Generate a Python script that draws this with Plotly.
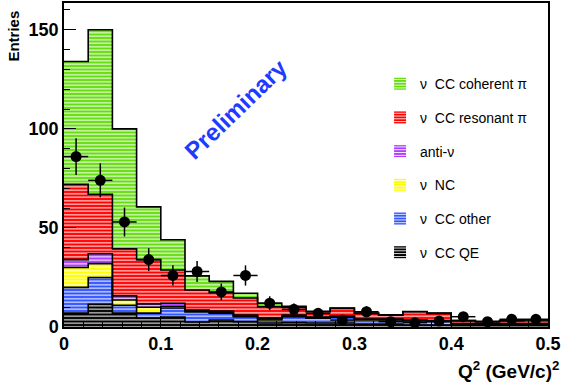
import plotly.graph_objects as go

# ---- data ----
bin_width = 0.025
n_bins = 20
bin_edges = [round(i * bin_width, 4) for i in range(n_bins + 1)]
bin_centers = [round((bin_edges[i] + bin_edges[i + 1]) / 2, 5) for i in range(n_bins)]

cc_qe = [7, 11.5, 7, 4.5, 5, 2.5, 3.5, 2.7, 2, 2.2, 2, 2, 1.5, 1.5, 1, 1, 0.8, 0.8, 0.8, 0.8]
cc_other = [13, 13.5, 4, 2.5, 4.6, 5.1, 3.5, 2.5, 1.5, 3.0, 2.5, 3.0, 2.0, 2.0, 2.0, 1.7, 0.7, 0.7, 0.7, 0.7]
nc = [10, 7, 2.6, 3, 0.9, 0.4, 0.5, 0.3, 0.5, 0.3, 0.3, 0.3, 0.3, 0.2, 0.2, 0.2, 0.1, 0.1, 0.1, 0.1]
anti_nu = [4, 5, 2.1, 1.6, 1.5, 0.5, 0.5, 0.5, 0.5, 0.5, 0.2, 0.2, 0.2, 0.3, 0.3, 0.3, 0.2, 0.2, 0.2, 0.2]
cc_res = [38, 30, 23.7, 22.4, 16.8, 10.2, 9.3, 8.6, 5.8, 4, 2.7, 3.9, 2.9, 2, 4.2, 3.7, 1.4, 0.9, 1.4, 1.7]
cc_coh = [62, 83, 60.6, 26.6, 15.2, 7.1, 5.7, 2.4, 1.7, 0.5, 0.2, 0.1, 0.1, 0.1, 0.1, 0.1, 0.1, 0.1, 0.1, 0.1]

data_counts = [86, 74, 53, 34, 26, 28, 17.7, 26, 12, 8.9, 6.9, 3.5, 7.7, 2.7, 2.2, 3, 5.2, 2.7, 3.9, 3.9]
data_errors = [9.3, 8.6, 7.3, 5.8, 5.1, 5.3, 4.2, 5.1, 3.5, 3.0, 2.6, 1.9, 2.8, 1.6, 1.5, 1.7, 2.3, 1.6, 2.0, 2.0]
data_xerr = [bin_width / 2] * n_bins

labels = ["\u03bd\u00a0 CC QE", "\u03bd\u00a0 CC other", "\u03bd\u00a0 NC", "anti-\u03bd",
          "\u03bd\u00a0 CC resonant \u03c0", "\u03bd\u00a0 CC coherent \u03c0"]
colors = ["#000000", "#3355ff", "#ffff00", "#b040ff", "#ff0000", "#66dd11"]
components = [cc_qe, cc_other, nc, anti_nu, cc_res, cc_coh]

y_ticks = [0, 50, 100, 150]
x_ticks = [0, 0.1, 0.2, 0.3, 0.4, 0.5]

FONT = "Liberation Sans, Arial, Helvetica, sans-serif"

fig = go.Figure()

# stacked fills
n = len(components)
for k, (lab, col, vals) in enumerate(zip(labels, colors, components)):
    fig.add_trace(go.Bar(
        x=bin_centers, y=vals, width=[bin_width] * n_bins, name=lab,
        marker=dict(color=col, line=dict(width=0),
                    pattern=dict(shape="-", bgcolor=col, fgcolor="white",
                                 size=3.5, solidity=0.3, fillmode="replace")),
        legendgroup=lab, legendrank=n - k, showlegend=True,
    ))

# step outlines of cumulative tops
cum = [0.0] * n_bins
for vals in components:
    cum = [c + v for c, v in zip(cum, vals)]
    fig.add_trace(go.Scatter(
        x=bin_edges, y=cum + [cum[-1]], mode="lines",
        line=dict(color="black", width=1.6, shape="hv"),
        showlegend=False, hoverinfo="skip",
    ))

# data points
fig.add_trace(go.Scatter(
    x=bin_centers, y=data_counts, mode="markers",
    marker=dict(color="black", size=11),
    error_y=dict(type="data", array=data_errors, color="black", thickness=1.5, width=0),
    error_x=dict(type="data", array=data_xerr, color="black", thickness=1.5, width=0),
    showlegend=False,
))

fig.add_annotation(
    x=0.177, y=110, xref="x", yref="y", text="<b>Preliminary</b>",
    textangle=-44, showarrow=False,
    font=dict(family=FONT, size=24, color="rgb(30,60,255)"),
)

fig.update_layout(
    width=561, height=382,
    margin=dict(l=64, r=13, t=3, b=55),
    paper_bgcolor="white", plot_bgcolor="white",
    barmode="stack", bargap=0,
    font=dict(family=FONT, color="black"),
    legend=dict(
        x=0.653, y=0.799, xanchor="left", yanchor="top",
        bgcolor="rgba(0,0,0,0)", borderwidth=0,
        font=dict(family=FONT, size=14, color="black"),
        traceorder="grouped", tracegroupgap=12.5,
    ),
    xaxis=dict(
        range=[0, 0.5], tickvals=x_ticks, ticktext=["<b>%g</b>" % v for v in x_ticks],
        ticks="inside", ticklen=11, tickwidth=1, tickcolor="black",
        minor=dict(ticks="inside", ticklen=6, dtick=0.02, tickcolor="black"),
        showline=True, linecolor="black", linewidth=1.5, mirror=True,
        showgrid=False, zeroline=False, automargin=False,
        tickfont=dict(family=FONT, size=18, color="black"),
    ),
    yaxis=dict(
        range=[0, 163.5], tickvals=y_ticks, ticktext=["<b>%g</b>" % v for v in y_ticks],
        ticks="inside", ticklen=12, tickwidth=1, tickcolor="black",
        minor=dict(ticks="inside", ticklen=6, dtick=10, tickcolor="black"),
        showline=True, linecolor="black", linewidth=1.5, mirror=True,
        showgrid=False, zeroline=False, automargin=False,
        tickfont=dict(family=FONT, size=18, color="black"),
    ),
)

fig.add_annotation(
    x=-0.105, y=0.897, xref="paper", yref="paper", text="<b>Entries</b>",
    textangle=-90, showarrow=False, xanchor="center", yanchor="middle",
    font=dict(family=FONT, size=15, color="black"),
)
fig.add_annotation(
    x=1, y=0, xref="paper", yref="paper",
    text="<b>Q<sup>2</sup> (GeV/c)<sup>2</sup></b>",
    showarrow=False, xanchor="right", yanchor="top",
    xshift=13, yshift=-29,
    font=dict(family=FONT, size=19, color="black"),
)

fig.write_html("out.html", config={"displayModeBar": False},
               post_script="document.body.style.margin='0';")
